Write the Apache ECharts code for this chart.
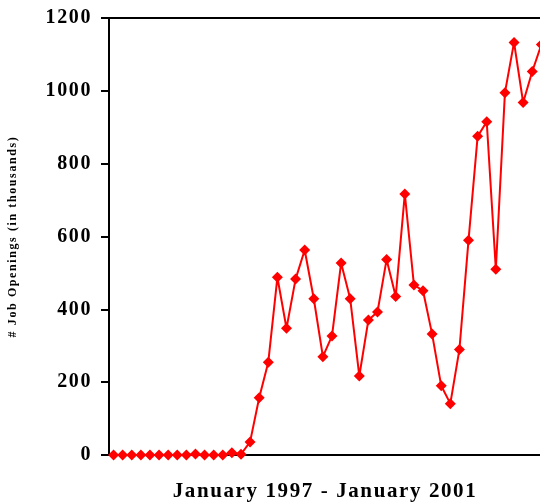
<!DOCTYPE html>
<html>
<head>
<meta charset="utf-8">
<script src="https://cdn.jsdelivr.net/npm/echarts@6/dist/echarts.min.js"></script>
<style>
  html, body { margin: 0; padding: 0; background: #fff; }
  #main { width: 540px; height: 502px; }
</style>
</head>
<body>
<div id="main"></div>
<script>
var months = [
  'Jan 1997','Feb 1997','Mar 1997','Apr 1997','May 1997','Jun 1997','Jul 1997','Aug 1997','Sep 1997','Oct 1997','Nov 1997','Dec 1997',
  'Jan 1998','Feb 1998','Mar 1998','Apr 1998','May 1998','Jun 1998','Jul 1998','Aug 1998','Sep 1998','Oct 1998','Nov 1998','Dec 1998',
  'Jan 1999','Feb 1999','Mar 1999','Apr 1999','May 1999','Jun 1999','Jul 1999','Aug 1999','Sep 1999','Oct 1999','Nov 1999','Dec 1999',
  'Jan 2000','Feb 2000','Mar 2000','Apr 2000','May 2000','Jun 2000','Jul 2000','Aug 2000','Sep 2000','Oct 2000','Nov 2000','Dec 2000',
  'Jan 2001'
];
// job openings, thousands (last month falls outside the visible area)
var openings = [
  0, 0, 0, 0, 0, 0, 0, 0, 0, 3, 0, 0, 0, 6, 2,
  36, 157, 255, 488, 348, 483, 563, 429, 270, 327, 527, 429, 217, 371, 393,
  537, 435, 717, 467, 451, 332, 190, 141, 290, 590, 875, 915, 510, 995, 1133,
  968, 1053, 1127
];
var yTicks = [0, 200, 400, 600, 800, 1000, 1200];

var serif = '"Liberation Serif", "DejaVu Serif", serif';
var chart = echarts.init(document.getElementById('main'));

var option = {
  animation: false,
  grid: {
    left: 109, top: 18, bottom: 47, right: -15,
    outerBoundsMode: 'none',
    show: true, borderColor: '#000', borderWidth: 2, backgroundColor: 'transparent'
  },
  xAxis: {
    type: 'category',
    data: months,
    boundaryGap: true,
    axisLine: { lineStyle: { color: '#000', width: 2 } },
    axisTick: { show: false },
    axisLabel: { show: false },
    name: 'January 1997 - January 2001',
    nameLocation: 'middle',
    nameGap: 26,
    nameTextStyle: {
      fontFamily: serif, fontWeight: 'bold', fontSize: 21, color: '#000',
      padding: [0, 14, 0, 0]
    }
  },
  yAxis: {
    type: 'value',
    min: yTicks[0],
    max: yTicks[yTicks.length - 1],
    interval: 200,
    axisLine: { show: true, onZero: false, lineStyle: { color: '#000', width: 2 } },
    axisTick: { show: true, inside: false, length: 8, lineStyle: { color: '#000', width: 2 } },
    splitLine: { show: false },
    axisLabel: {
      margin: 17,
      formatter: function (v) { return String(v); },
      fontFamily: serif, fontWeight: 'bold', fontSize: 20, color: '#000'
    },
    name: '# Job Openings (in thousands)',
    nameLocation: 'middle',
    nameGap: 90,
    nameRotate: 90,
    nameTextStyle: {
      fontFamily: serif, fontWeight: 'bold', fontSize: 12, color: '#000'
    }
  },
  series: [{
    type: 'line',
    data: openings,
    symbol: 'diamond',
    symbolSize: 11,
    showAllSymbol: true,
    lineStyle: { color: '#ff0000', width: 2 },
    itemStyle: { color: '#ff0000' },
    clip: false
  }]
};
chart.setOption(option);

// the original uses slightly spaced-out lettering; redraw once the canvas exists
var cv = document.querySelector('#main canvas');
if (cv) {
  cv.getContext('2d').letterSpacing = '1.6px';
  chart.setOption(option, true);
}
</script>
</body>
</html>
